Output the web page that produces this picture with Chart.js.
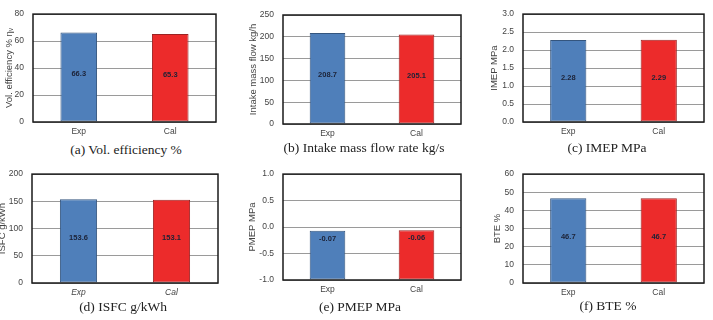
<!DOCTYPE html>
<html>
<head>
<meta charset="utf-8">
<script src="https://cdn.jsdelivr.net/npm/chart.js@4.4.1/dist/chart.umd.min.js"></script>
<style>
    html, body { margin: 0; padding: 0; background: #fff; }
    #page { position: relative; width: 713px; height: 320px; overflow: hidden; background: #fff; }
    .panel-canvas { position: absolute; }
    .caption { position: absolute; width: 240px; margin-left: -120px; text-align: center; font-family: "Liberation Serif", "Times New Roman", serif; font-size: 13.5px; line-height: 16px; color: #222; white-space: nowrap; }
</style>
</head>
<body>
<div id="page"></div>
<script>
// Dados
const categories = ['Exp', 'Cal'];
const volEfficiency = [66.3, 65.3];
const intakeFlow = [208.7, 205.1];
const imep = [2.28, 2.29];
const isfc = [153.6, 153.1];
const pmep = [-0.07, -0.06];
const bte = [46.7, 46.7];

const barColors = ['#4f7fba', '#ec2b2b'];
const barBorders = ['#34557e', '#9c2323'];

// Moldura preta da área do gráfico
const frameBox = {
    id: 'frameBox',
    afterDatasetsDraw(chart) {
        const { ctx, chartArea: a } = chart;
        ctx.save();
        ctx.strokeStyle = '#1a1a1a';
        ctx.lineWidth = 1.5;
        ctx.strokeRect(a.left, a.top, a.right - a.left, a.bottom - a.top);
        ctx.restore();
    }
};

// Rótulos de valor dentro das barras
const valueLabels = {
    id: 'valueLabels',
    afterDatasetsDraw(chart, args, opts) {
        const ctx = chart.ctx;
        const meta = chart.getDatasetMeta(0);
        const data = chart.data.datasets[0].data;
        ctx.save();
        ctx.font = 'bold 7.5px "Liberation Sans", Arial, sans-serif';
        ctx.fillStyle = '#1c2236';
        ctx.textAlign = 'center';
        ctx.textBaseline = 'middle';
        meta.data.forEach((bar, i) => {
            const y = opts.insideTop != null ? bar.y + opts.insideTop : (bar.y + bar.base) / 2 - 3;
            ctx.fillText(data[i].toFixed(opts.decimals), bar.x, y);
        });
        ctx.restore();
    }
};

function makePanel(cfg) {
    const page = document.getElementById('page');
    const canvas = document.createElement('canvas');
    canvas.className = 'panel-canvas';
    canvas.style.left = cfg.cx + 'px';
    canvas.style.top = cfg.cy + 'px';
    canvas.style.width = cfg.cw + 'px';
    canvas.style.height = cfg.ch + 'px';
    canvas.width = cfg.cw;
    canvas.height = cfg.ch;
    page.appendChild(canvas);

    const cap = document.createElement('div');
    cap.className = 'caption';
    cap.style.left = cfg.capX + 'px';
    cap.style.top = (cfg.capY - 8) + 'px';
    cap.textContent = cfg.caption;
    page.appendChild(cap);

    new Chart(canvas.getContext('2d'), {
        type: 'bar',
        data: {
            labels: categories,
            datasets: [{
                data: cfg.values,
                backgroundColor: barColors,
                borderColor: barBorders,
                borderWidth: 1,
                borderSkipped: false,
                barPercentage: 0.4,
                categoryPercentage: 1,
                base: cfg.base
            }]
        },
        options: {
            responsive: false,
            animation: false,
            events: [],
            layout: { padding: { left: 0, top: cfg.box.T - cfg.cy, right: cfg.cx + cfg.cw - cfg.box.R, bottom: 0 } },
            plugins: {
                legend: { display: false },
                tooltip: { enabled: false },
                valueLabels: { decimals: cfg.decimals, insideTop: cfg.insideTop }
            },
            scales: {
                x: {
                    offset: true,
                    grid: { display: false, drawTicks: false },
                    border: { display: false },
                    ticks: {
                        padding: 5,
                        color: '#444',
                        font: { family: '"Liberation Sans", Arial, sans-serif', size: 8.5, style: cfg.italicCats ? 'italic' : 'normal' }
                    },
                    afterFit: s => { s.height = cfg.cy + cfg.ch - cfg.box.B; }
                },
                y: {
                    min: cfg.min,
                    max: cfg.max,
                    grid: { color: '#9a9a9a', lineWidth: 1, drawTicks: false },
                    border: { display: false },
                    ticks: {
                        stepSize: cfg.step,
                        padding: 9,
                        color: '#444',
                        font: { family: '"Liberation Sans", Arial, sans-serif', size: 8.5 },
                        callback: v => v.toFixed(cfg.tickDecimals)
                    },
                    title: {
                        display: true,
                        text: cfg.yTitle,
                        color: '#444',
                        padding: { top: cfg.titlePad, bottom: 0 },
                        font: { family: '"Liberation Sans", Arial, sans-serif', size: 9.5 }
                    },
                    afterFit: s => { s.width = cfg.box.L - cfg.cx; }
                }
            }
        },
        plugins: [frameBox, valueLabels]
    });
}

makePanel({ values: volEfficiency, min: 0, max: 80, step: 20, tickDecimals: 0, decimals: 1,
    yTitle: 'Vol. efficiency % \u03b7\u1d65', titlePad: 4, caption: '(a) Vol. efficiency %',
    cx: 0, cy: 0, cw: 235, ch: 142, box: { L: 33, R: 216, T: 14, B: 122 }, capX: 126, capY: 150 });

makePanel({ values: intakeFlow, min: 0, max: 250, step: 50, tickDecimals: 0, decimals: 1,
    yTitle: 'Intake mass flow kg/h', titlePad: 8, caption: '(b) Intake mass flow rate kg/s',
    cx: 240, cy: 0, cw: 235, ch: 142, box: { L: 283, R: 461, T: 15, B: 124 }, capX: 364, capY: 148 });

makePanel({ values: imep, min: 0, max: 3, step: 0.5, tickDecimals: 1, decimals: 2,
    yTitle: 'IMEP MPa', titlePad: 14, caption: '(c) IMEP MPa',
    cx: 475, cy: 0, cw: 238, ch: 142, box: { L: 523, R: 704, T: 14, B: 122 }, capX: 607, capY: 148 });

makePanel({ values: isfc, min: 0, max: 200, step: 50, tickDecimals: 0, decimals: 1, italicCats: true,
    yTitle: 'ISFC g/kWh', titlePad: 0, caption: '(d) ISFC g/kWh',
    cx: -3, cy: 160, cw: 238, ch: 140, box: { L: 32, R: 218, T: 169, B: 283 }, capX: 123, capY: 307 });

makePanel({ values: pmep, min: -1, max: 1, step: 0.5, tickDecimals: 1, decimals: 2, base: -1, insideTop: 8,
    yTitle: 'PMEP MPa', titlePad: 7, caption: '(e) PMEP MPa',
    cx: 240, cy: 160, cw: 235, ch: 140, box: { L: 283, R: 461, T: 172, B: 280 }, capX: 360, capY: 307 });

makePanel({ values: bte, min: 0, max: 60, step: 10, tickDecimals: 0, decimals: 1,
    yTitle: 'BTE %', titlePad: 17, caption: '(f) BTE %',
    cx: 475, cy: 160, cw: 238, ch: 140, box: { L: 523, R: 704, T: 171, B: 283 }, capX: 608, capY: 306 });
</script>
</body>
</html>
